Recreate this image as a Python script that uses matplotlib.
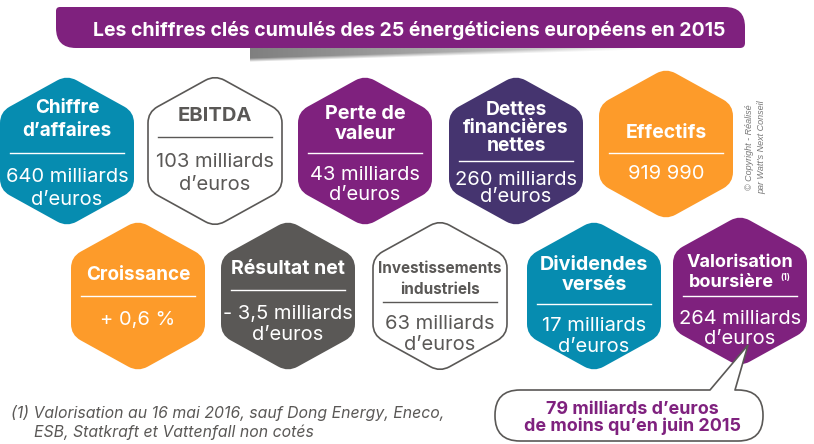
import numpy as np
import matplotlib
matplotlib.use("Agg")
import matplotlib.pyplot as plt
from matplotlib.path import Path
from matplotlib.patches import PathPatch

plt.rcParams['font.family'] = ['Inter', 'DejaVu Sans']

# contents
main_title = "Les chiffres clés cumulés des 25 énergéticiens européens en 2015"
headings = [["Chiffre", "d’affaires"], ["EBITDA"], ["Perte de", "valeur"],
            ["Dettes", "financières", "nettes"], ["Effectifs"],
            ["Croissance"], ["Résultat net"], ["Investissements", "industriels"],
            ["Dividendes", "versés"], ["Valorisation", "boursière"]]
values = [["640 milliards", "d’euros"], ["103 milliards", "d’euros"], ["43 milliards", "d’euros"],
          ["260 milliards", "d’euros"], ["919 990"],
          ["+ 0,6 %"], ["- 3,5 milliards", "d’euros"], ["63 milliards", "d’euros"],
          ["17 milliards", "d’euros"], ["264 milliards", "d’euros"]]
note_lines = ["(1) Valorisation au 16 mai 2016, sauf Dong Energy, Eneco,", "ESB, Statkraft et Vattenfall non cotés"]
bubble_lines = ["79 milliards d’euros", "de moins qu’en juin 2015"]
credit_lines = ["© Copyright - Réalisé", "par Watt's Next Conseil"]

# layout, in pixels of the picture
TEAL, PURPLE, INDIGO, ORANGE, DARK, WHITE = "#068cb0", "#7f217e", "#45346f", "#fd9b2a", "#5a5856", "#ffffff"
fills = [TEAL, WHITE, PURPLE, INDIGO, ORANGE, ORANGE, DARK, WHITE, TEAL, PURPLE]
cx = [67, 215, 365, 516, 666, 138, 288, 440, 594, 740]
top = [77, 77, 77, 77, 70, 222, 222, 222, 222, 217]
head_y = [[108, 131], [116], [114, 134], [110, 128, 146], [133], [275], [269], [268, 289], [265, 285], [262, 282]]
head_x = [[0, 0], [0], [0, 0], [0, 0, 0], [0], [0], [0], [0, 0], [0, 0], [0, -9]]
rule_y = [153, 137, 153, 161, 153, 296, 290, 302, 304, 296]
val_y = [[177, 200], [162, 185], [175, 195], [180, 197], [174], [320], [314, 335], [324, 345], [326, 347], [319, 339]]
head_size = [13.6, 14.5, 14.3, 13.8, 14, 13.6, 14, 11, 14.2, 13]


def rounded(points, radii):
    # closed polygon with quadratic rounded corners
    pts = np.array(points, float)
    n = len(pts)
    verts, codes = [], []
    for i in range(n):
        p, prev, nxt = pts[i], pts[i - 1], pts[(i + 1) % n]
        r = radii[i]
        a = p + (prev - p) / np.linalg.norm(prev - p) * r
        b = p + (nxt - p) / np.linalg.norm(nxt - p) * r
        verts.append(a)
        codes.append(Path.MOVETO if i == 0 else Path.LINETO)
        verts += [p, b]
        codes += [Path.CURVE3, Path.CURVE3]
    verts.append(verts[0])
    codes.append(Path.CLOSEPOLY)
    return Path(verts, codes)


def hexagon(x, y0, w=134, h=148):
    return rounded([(x, y0 - 2), (x + w / 2, y0 + 35), (x + w / 2, y0 + h - 35), (x, y0 + h + 2),
                    (x - w / 2, y0 + h - 35), (x - w / 2, y0 + 35)], [11, 11, 11, 11, 11, 11])


fig = plt.figure(figsize=(8.14, 4.44), dpi=100)
ax = fig.add_axes([0, 0, 1, 1])
ax.set_xlim(0, 814)
ax.set_ylim(444, 0)
ax.axis("off")

# banner and its soft shadow
xx, yy = np.meshgrid(np.linspace(0, 1, 300), np.arange(46, 68) + 0.5)
edge = 58 - 12 * xx
fade = np.zeros(xx.shape + (4,))
fade[..., :3] = 0.5
fade[..., 3] = np.clip(1 - (yy - edge) / 4, 0, 1) * (1 - xx) ** 0.6
ax.imshow(fade, extent=(250, 640, 68, 46), aspect="auto", zorder=1, interpolation="bilinear")
ax.set_xlim(0, 814)
ax.set_ylim(444, 0)
ax.add_patch(PathPatch(rounded([(56, 7), (745, 7), (745, 48), (56, 48)], [4, 20, 5, 20]),
                       fc=PURPLE, ec="none", zorder=2))
ax.text(409, 30, main_title, color="white", fontsize=14, fontweight="bold", ha="center", va="center", zorder=3)

# hexagons
for i in range(len(cx)):
    white = fills[i] == WHITE
    ink = DARK if white else "white"
    ax.add_patch(PathPatch(hexagon(cx[i], top[i]), fc=fills[i], ec=DARK if white else "none", lw=1.2, zorder=2))
    for line, dx, y in zip(headings[i], head_x[i], head_y[i]):
        ax.text(cx[i] + dx, y, line, color=ink, fontsize=head_size[i], fontweight="bold", ha="center", va="center", zorder=3)
    ax.plot([cx[i] - 57, cx[i] + 57], [rule_y[i]] * 2, color=ink, lw=1, zorder=3)
    for line, y in zip(values[i], val_y[i]):
        ax.text(cx[i], y, line, color=ink, fontsize=14.5, ha="center", va="center", zorder=3)

ax.text(785, 277, "(1)", color="white", fontsize=6, fontweight="bold", ha="center", va="center", zorder=3)

# callout bubble
ax.add_patch(PathPatch(rounded([(495, 390), (710, 390), (748, 345), (735, 390), (763, 390), (763, 441), (495, 441)],
                               [25, 0.1, 0.1, 0.1, 25, 25, 25]),
                       fc="white", ec=DARK, lw=1.2, zorder=4))
ax.text(632, 409, bubble_lines[0], color=PURPLE, fontsize=12.9, fontweight="bold", ha="center", va="center", zorder=5)
ax.text(632, 426, bubble_lines[1], color=PURPLE, fontsize=12.9, fontweight="bold", ha="center", va="center", zorder=5)

# footnote and credit
ax.text(11, 413, note_lines[0], color=DARK, fontsize=11.4, style="italic", va="center")
ax.text(34, 432, note_lines[1], color=DARK, fontsize=11.4, style="italic", va="center")
ax.text(750, 147, credit_lines[0], color="#777777", fontsize=6.5, style="italic", rotation=90, ha="center", va="center",
        family=["Liberation Sans Narrow", "Liberation Sans"])
ax.text(762, 147, credit_lines[1], color="#777777", fontsize=6.5, style="italic", rotation=90, ha="center", va="center",
        family=["Liberation Sans Narrow", "Liberation Sans"])

fig.savefig("out.png", dpi=100)
